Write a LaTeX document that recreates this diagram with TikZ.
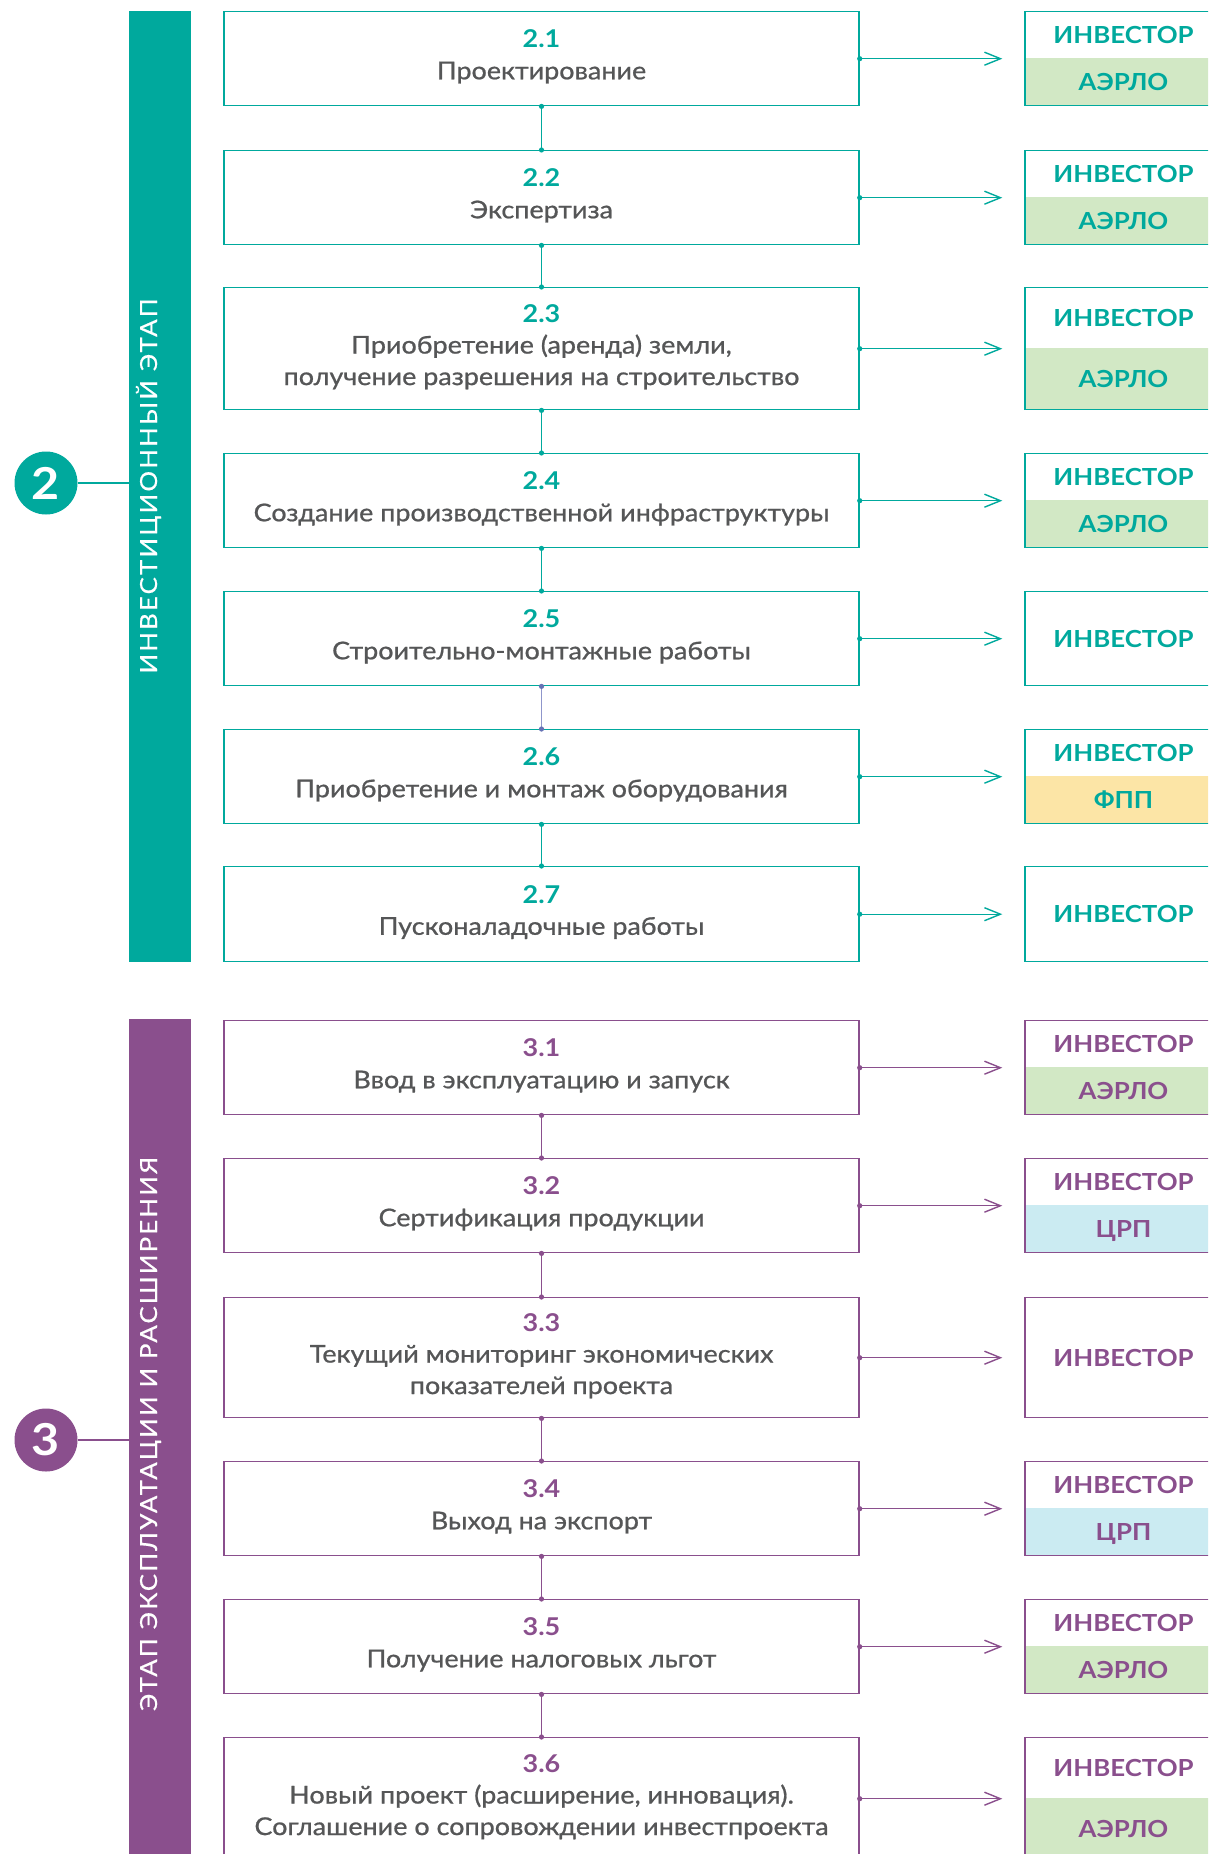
\documentclass[tikz,border=0pt]{standalone}
\usepackage{fontspec}
\setmainfont{Lato}[FakeStretch=1.1]
\newfontfamily\medfont{Lato}[FakeStretch=1.1,FakeBold=0.8]
\newfontfamily\barfont{Lato}[FakeStretch=1.1,FakeBold=0.4,LetterSpace=9]
\usetikzlibrary{arrows.meta,calc}
\definecolor{tealc}{HTML}{00A99D}
\definecolor{purc}{HTML}{8A4F8D}
\definecolor{greenf}{HTML}{D2E8C5}
\definecolor{yellowf}{HTML}{FCE5A6}
\definecolor{bluef}{HTML}{CBEBF2}
\definecolor{grayt}{HTML}{555657}
\definecolor{peri}{HTML}{8F96CB}
\definecolor{perid}{HTML}{6673B5}
\tikzset{
 stepbox/.style={draw=#1, line width=1.4pt, minimum width=635pt, inner sep=0pt},
 steptext/.style={align=center, text=grayt, font=\medfont\fontsize{24.5}{31.5}\selectfont, inner sep=0pt},
 rbox/.style={draw=#1, line width=1.4pt, minimum width=197pt, inner sep=0pt},
 rtext/.style={text=#1, font=\fontsize{23.5}{24}\selectfont\bfseries, inner sep=0pt, text height=16.8pt, text depth=0pt},
 link/.style={draw=#1, line width=1.4pt},
 arrowline/.style={draw=#1, line width=1.4pt, -{Straight Barb[length=16pt,width=13pt]}},
 bar/.style={fill=#1, minimum width=62pt, inner sep=0pt, outer sep=0pt, anchor=north west},
 bartext/.style={rotate=90, anchor=base, text=white, inner sep=0pt, font=\barfont\fontsize{23.5}{24}\selectfont},
 stagecircle/.style={circle, fill=#1, minimum size=63pt, inner sep=0pt, text=white, font=\fontsize{44}{44}\selectfont\bfseries},
}
\newcommand\StepBox[6]{%
  \node[stepbox=#4, minimum height=#3pt, anchor=north] (#1) at (541.5,#2) {};
  \node[steptext] (#1t) at ([yshift=2pt]#1.center) {\textcolor{#4}{\rmfamily\bfseries #5}\\#6};
}
\newcommand\OneBox[4]{%
  \node[rbox=#4, minimum height=#3pt, anchor=north] (#1) at (1123.5,#2) {};
  \node[rtext=#4] (#1a) at (#1.center) {ИНВЕСТОР};
}
\newcommand\TwoBox[6]{%
  \fill[#5] (1025,{#2+#3/2}) rectangle (1222,{#2+#3});
  \node[rbox=#4, minimum height=#3pt, anchor=north] (#1) at (1123.5,#2) {};
  \node[rtext=#4] (#1a) at ($(#1.north)!0.25!(#1.south)$) {ИНВЕСТОР};
  \node[rtext=#4] (#1b) at ($(#1.north)!0.75!(#1.south)$) {#6};
}
\newcommand\StepArrow[3]{%
  \draw[arrowline=#3] (#1.east) -- ([xshift=-22pt]#2.west);
  \fill[#3] (#1.east) circle (2.6pt);
}
\newcommand\StepLink[4]{%
  \draw[link=#3] (#1.south) -- (#2.north);
  \fill[#4] (#1.south) circle (2.6pt);
  \fill[#4] (#2.north) circle (2.6pt);
}
\begin{document}
\begin{tikzpicture}[x=1pt,y=-1pt]
\useasboundingbox (0,0) rectangle (1208,1854);
\clip (0,0) rectangle (1208,1854);
\fill[white] (0,0) rectangle (1208,1854);

% stage bars
\node[bar=tealc, minimum height=951pt] (bar2) at (129,11) {};
\node[bar=purc, minimum height=860pt] (bar3) at (129,1019) {};
\node[bartext] (bar2t) at (157,486) {ИНВЕСТИЦИОННЫЙ ЭТАП};
\node[bartext] (bar3t) at (157,1434) {ЭТАП ЭКСПЛУАТАЦИИ И РАСШИРЕНИЯ};

% stage circles
\node[stagecircle=tealc] (c2) at (46,483) {2};
\node[stagecircle=purc] (c3) at (46,1440) {3};
\draw[link=tealc] (c2.east) -- (c2.east -| bar2.west);
\draw[link=purc] (c3.east) -- (c3.east -| bar3.west);

% stage 2
\StepBox{b21}{11}{94}{tealc}{2.1}{Проектирование}
\TwoBox{r21}{11}{94}{tealc}{greenf}{АЭРЛО}
\StepArrow{b21}{r21}{tealc}

\StepBox{b22}{150}{94}{tealc}{2.2}{Экспертиза}
\TwoBox{r22}{150}{94}{tealc}{greenf}{АЭРЛО}
\StepArrow{b22}{r22}{tealc}

\StepBox{b23}{287}{122}{tealc}{2.3}{Приобретение (аренда) земли,\\получение разрешения на строительство}
\TwoBox{r23}{287}{122}{tealc}{greenf}{АЭРЛО}
\StepArrow{b23}{r23}{tealc}

\StepBox{b24}{453}{94}{tealc}{2.4}{Создание производственной инфраструктуры}
\TwoBox{r24}{453}{94}{tealc}{greenf}{АЭРЛО}
\StepArrow{b24}{r24}{tealc}

\StepBox{b25}{591}{94}{tealc}{2.5}{Строительно-монтажные работы}
\OneBox{r25}{591}{94}{tealc}
\StepArrow{b25}{r25}{tealc}

\StepBox{b26}{729}{94}{tealc}{2.6}{Приобретение и монтаж оборудования}
\TwoBox{r26}{729}{94}{tealc}{yellowf}{ФПП}
\StepArrow{b26}{r26}{tealc}

\StepBox{b27}{866}{95}{tealc}{2.7}{Пусконаладочные работы}
\OneBox{r27}{866}{95}{tealc}
\StepArrow{b27}{r27}{tealc}

\StepLink{b21}{b22}{tealc}{tealc}
\StepLink{b22}{b23}{tealc}{tealc}
\StepLink{b23}{b24}{tealc}{tealc}
\StepLink{b24}{b25}{tealc}{tealc}
\StepLink{b25}{b26}{peri}{perid}
\StepLink{b26}{b27}{tealc}{tealc}

% stage 3
\StepBox{b31}{1020}{94}{purc}{3.1}{Ввод в эксплуатацию и запуск}
\TwoBox{r31}{1020}{94}{purc}{greenf}{АЭРЛО}
\StepArrow{b31}{r31}{purc}

\StepBox{b32}{1158}{94}{purc}{3.2}{Сертификация продукции}
\TwoBox{r32}{1158}{94}{purc}{bluef}{ЦРП}
\StepArrow{b32}{r32}{purc}

\StepBox{b33}{1297}{120}{purc}{3.3}{Текущий мониторинг экономических\\показателей проекта}
\OneBox{r33}{1297}{120}{purc}
\StepArrow{b33}{r33}{purc}

\StepBox{b34}{1461}{94}{purc}{3.4}{Выход на экспорт}
\TwoBox{r34}{1461}{94}{purc}{bluef}{ЦРП}
\StepArrow{b34}{r34}{purc}

\StepBox{b35}{1599}{94}{purc}{3.5}{Получение налоговых льгот}
\TwoBox{r35}{1599}{94}{purc}{greenf}{АЭРЛО}
\StepArrow{b35}{r35}{purc}

\StepBox{b36}{1737}{122}{purc}{3.6}{Новый проект (расширение, инновация).\\Соглашение о сопровождении инвестпроекта}
\TwoBox{r36}{1737}{122}{purc}{greenf}{АЭРЛО}
\StepArrow{b36}{r36}{purc}

\StepLink{b31}{b32}{purc}{purc}
\StepLink{b32}{b33}{purc}{purc}
\StepLink{b33}{b34}{purc}{purc}
\StepLink{b34}{b35}{purc}{purc}
\StepLink{b35}{b36}{purc}{purc}
\end{tikzpicture}
\end{document}
